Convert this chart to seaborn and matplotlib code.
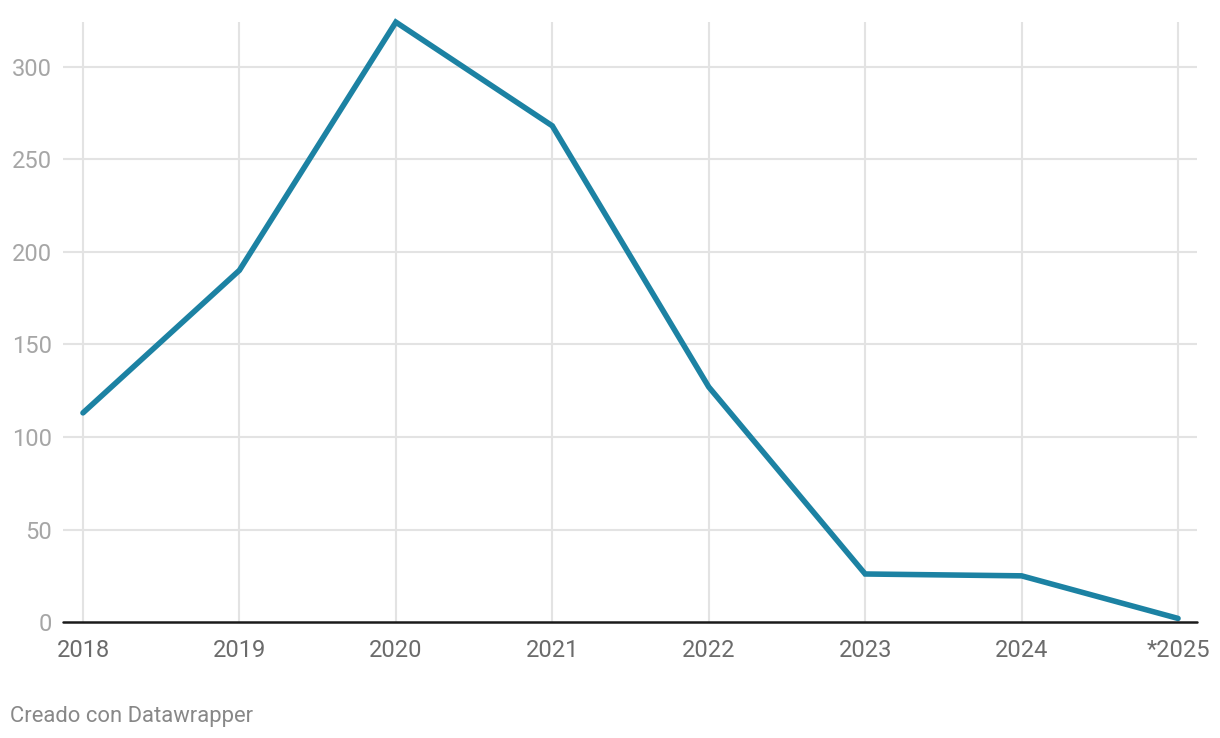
import pandas as pd
import matplotlib
matplotlib.use('Agg')
import matplotlib.pyplot as plt
import seaborn as sns

years = ['2018', '2019', '2020', '2021', '2022', '2023', '2024', '*2025']
values = [113, 190, 324, 268, 127, 26, 25, 2]
yticks = [0, 50, 100, 150, 200, 250, 300]

df = pd.DataFrame({'year': years, 'value': values})

sns.set_style('white')
plt.rcParams['font.family'] = ['Roboto', 'DejaVu Sans']

fig = plt.figure(figsize=(12.2, 7.38), dpi=100)
ax = fig.add_axes([0.0516, 0.157, 0.9294, 0.813])

sns.lineplot(data=df, x='year', y='value', ax=ax, color='#1c82a3',
             linewidth=4, solid_joinstyle='miter', solid_capstyle='round',
             zorder=5, clip_on=False)

ax.set_xlim(-0.128, 7.12)
ax.set_ylim(0, 324)
ax.set_yticks(yticks)
ax.set_xticks(range(len(years)))
ax.set_xticklabels(years)
ax.set_xlabel('')
ax.set_ylabel('')

# gridlines
for y in yticks[1:]:
    ax.axhline(y, color='#e3e3e3', linewidth=1.5, zorder=1)
for i in range(len(years)):
    ax.axvline(i, color='#e3e3e3', linewidth=1.5, zorder=1)
ax.axhline(0, color='#1a1a1a', linewidth=1.8, zorder=6, clip_on=False)

for s in ax.spines.values():
    s.set_visible(False)

ax.tick_params(axis='y', length=0, pad=8, labelsize=17, labelcolor='#a6a6a6')
ax.tick_params(axis='x', length=0, pad=12, labelsize=17, labelcolor='#6b6b6b')

fig.text(0.008, 0.022, 'Creado con Datawrapper', fontsize=15.8, color='#888888')

fig.savefig('out.png', dpi=100)
